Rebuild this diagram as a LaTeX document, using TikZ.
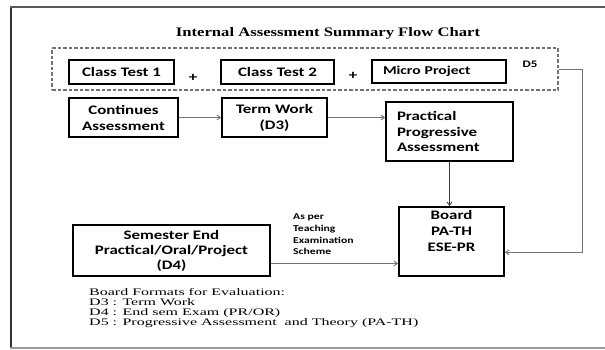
\documentclass[tikz,border=0pt]{standalone}
\usepackage{fontspec}
\usetikzlibrary{arrows.meta,calc}
\newfontfamily\boxf{Carlito}[FakeStretch=1.3]
\newfontfamily\serifw{Liberation Serif}[FakeStretch=1.6]
\newfontfamily\titlef{Liberation Serif}[FakeStretch=1.28]
\tikzset{
  abox/.style={draw=black, line width=1.8pt, rectangle, inner sep=2pt,
    font=\boxf\bfseries\fontsize{13}{16}\selectfont, align=center},
  grpbox/.style={draw=black!55, line width=1.4pt, dash pattern=on 3.5pt off 2pt, rectangle, inner sep=0pt},
  conn/.style={draw=black!55, line width=0.9pt, -{Straight Barb[length=3.5pt,width=5pt]}},
  small/.style={font=\boxf\bfseries\fontsize{9}{11.7}\selectfont, align=left, inner sep=0pt},
}
\begin{document}
\begin{tikzpicture}[x=1pt,y=-1pt]
\useasboundingbox[fill=white] (0,0) rectangle (605,349);
% frame
\draw[line width=2pt, black!80] (11,7) -- (11,348);
\draw[line width=1.8pt, black!65] (10,7) -- (605,7);
\draw[line width=1.5pt, black!40] (10,348) -- (605,348);
% title
\node (title) at (328,33) {\titlef\bfseries\fontsize{13}{15}\selectfont Internal Assessment Summary Flow Chart};
% group
\node[grpbox, minimum width=506pt, minimum height=42pt] (grp) at (305,69) {};
\node[abox, minimum width=105pt, minimum height=24pt] (ct1) at (121.5,72) {Class Test 1};
\node[abox, minimum width=113pt, minimum height=24pt] (ct2) at (277.5,72) {Class Test 2};
\node[abox, minimum width=134pt, minimum height=23pt, text width=112pt, inner xsep=11pt, align=left,
  font=\boxf\bfseries\fontsize{12}{14}\selectfont] (mp) at (439,71.5) {Micro Project};
\node[font=\boxf\bfseries\fontsize{13}{15}\selectfont] (plus1) at (193,78) {+};
\node[font=\boxf\bfseries\fontsize{13}{15}\selectfont] (plus2) at (353,76) {+};
\node[small, font=\boxf\bfseries\fontsize{10}{12}\selectfont] (d5) at (530,64) {D5};
% second row
\node[abox, minimum width=109pt, minimum height=39pt] (ca) at (123.5,117.5) {Continues\\Assessment};
\node[abox, minimum width=105pt, minimum height=39pt] (tw) at (274.5,117.5) {Term Work\\(D3)};
\node[abox, minimum width=127pt, minimum height=59pt, text width=105pt, inner xsep=11pt, align=left,
  font=\boxf\bfseries\fontsize{13}{15.5}\selectfont] (ppa) at (449.5,131.5) {Practical\\Progressive\\Assessment};
% board
\node[abox, minimum width=105pt, minimum height=69pt,
  label={[font=\boxf\bfseries\fontsize{13}{16}\selectfont, align=center, anchor=north, yshift=-4pt, inner sep=0pt]north:{Board\\PA-TH\\ESE-PR}}] (board) at (451.5,241.5) {};
% semester
\node[abox, minimum width=197pt, minimum height=51pt, font=\boxf\bfseries\fontsize{13}{15}\selectfont] (sem) at (171.5,250.5) {Semester End\\Practical/Oral/Project\\(D4)};
\node[small, anchor=west] (scheme) at (293,234.5) {As per\\Teaching\\Examination\\Scheme};
% connectors
\draw[conn] (ca.east) -- (tw.west);
\draw[conn] (tw.east) -- (tw.east -| ppa.west);
\draw[conn, draw=black!75] (ppa.south) -- (ppa.south |- board.north);
\coordinate (semout) at ($(sem.south east)!0.255!(sem.north east)$);
\draw[conn] (semout) -- (semout -| board.west);
\coordinate (bin) at ($(board.south east)!0.348!(board.north east)$);
\draw[conn] (grp.east) -- ++(24,0) coordinate (d5c) |- (bin);
% notes
\node[anchor=west, align=left, inner sep=0pt, font=\serifw\fontsize{10}{10}\selectfont] (notes) at (89,308)
 {Board Formats for Evaluation:\\D3 : Term Work\\D4 : End sem Exam (PR/OR)\\D5 : Progressive Assessment\ \ and Theory (PA-TH)};
\end{tikzpicture}
\end{document}
